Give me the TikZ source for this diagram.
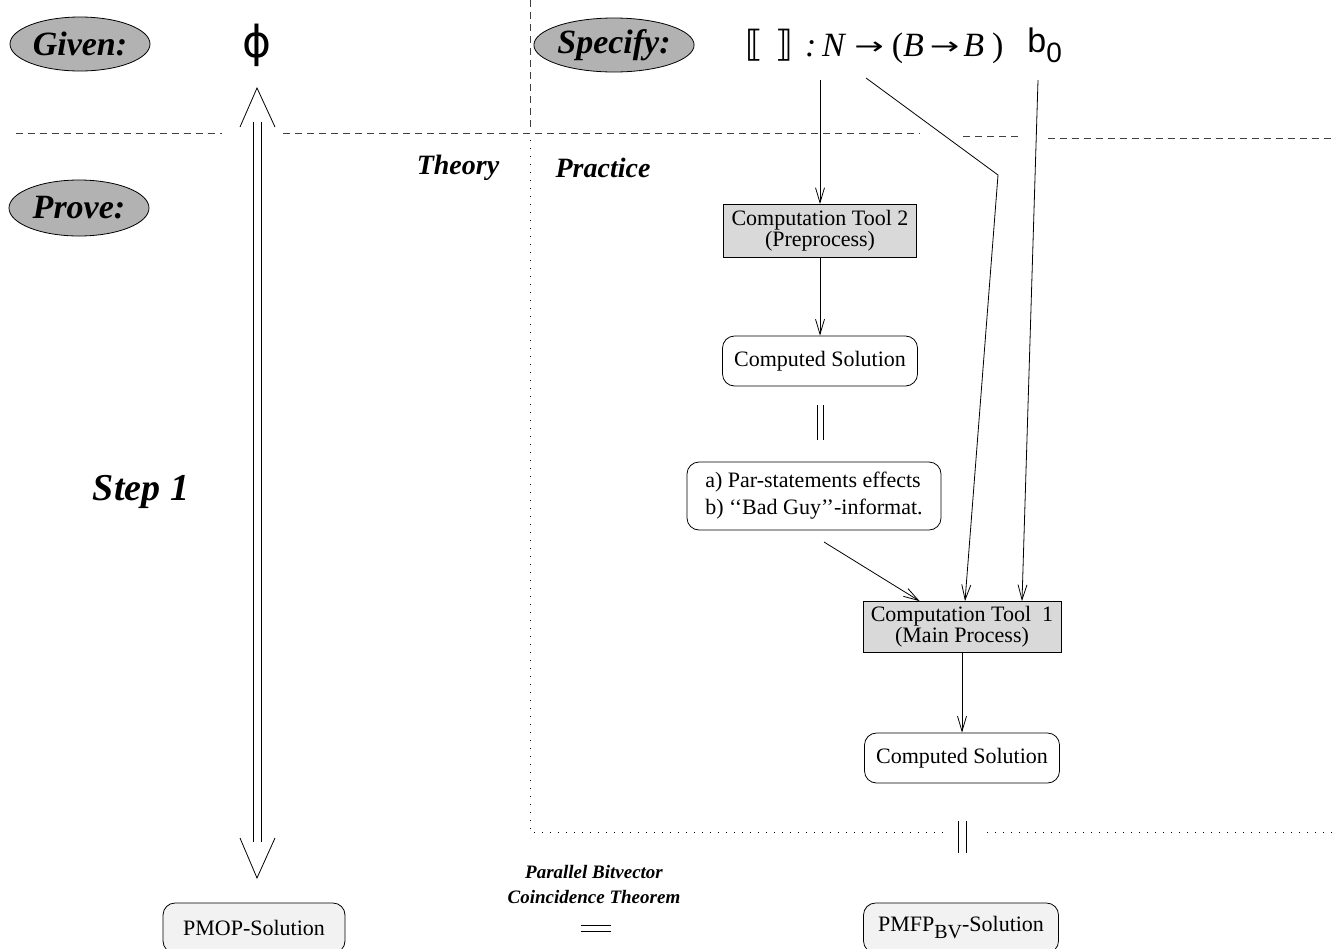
\documentclass[tikz,border=0pt]{standalone}
\usepackage{fontspec}
\setmainfont{Liberation Serif}
\newfontfamily\symfont{DejaVu Sans}
\newfontfamily\helv{Liberation Sans}
\usetikzlibrary{shapes.geometric,arrows.meta,calc}
\newcommand{\tyarrow}{\raisebox{1pt}{\scalebox{1.1}[0.75]{\symfont\fontsize{16}{16}\selectfont →}}}

\begin{document}
\begin{tikzpicture}[x=0.5pt,y=-0.5pt,
	>={Straight Barb[length=7.5pt,width=4.5pt]},
	tag/.style={ellipse,draw,fill=black!30,inner sep=0pt,minimum width=70pt,minimum height=27pt,font=\fontsize{17}{18}\selectfont\bfseries\itshape},
	tool/.style={draw,fill=black!15,align=center,inner sep=0pt,font=\fontsize{11}{10.5}\selectfont},
	result/.style={draw,rounded corners=6pt,inner sep=0pt,minimum width=97.5pt,minimum height=25pt,font=\fontsize{11}{13}\selectfont},
	final/.style={result,fill=black!5},
	rule/.style={dash pattern=on 3.5pt off 2.5pt,black!75},
	dots/.style={dash pattern=on 0.6pt off 3.4pt}]
	\useasboundingbox (0,0) rectangle (1332,948);

	\node[tag] (given) at (80,44) {Given:};
	\node[tag,minimum height=28pt] (prove) at (79,208) {Prove:};
	\node[tag] (specify) at (614,45) {Specify:};
	\node[font=\symfont\fontsize{22}{22}\selectfont] (phi) at (257,45) {ϕ};
	\node[anchor=west,inner sep=0pt,font=\fontsize{17}{17}\selectfont] (sem) at (745,46)
		{{\symfont\fontsize{18}{18}\selectfont ⟦\hspace{6pt}⟧}\hspace{6pt}\textit{:\,N}\hspace{4pt}\tyarrow\hspace{4pt}(\textit{B}\hspace{3pt}\tyarrow\hspace{2pt}\textit{B}\hspace{4pt})};
	\node[anchor=west,inner sep=0pt,font=\helv\fontsize{17}{17}\selectfont] (b0) at (1027,45) {b\raisebox{-5pt}{\fontsize{14}{14}\selectfont 0}};

	\node[font=\fontsize{14}{14}\selectfont\bfseries\itshape] (theory) at (458,168) {Theory};
	\node[font=\fontsize{14}{14}\selectfont\bfseries\itshape] (practice) at (603,168) {Practice};
	\node[font=\fontsize{19}{19}\selectfont\bfseries\itshape] (step) at (141,492) {Step 1};

	\node[tool,minimum width=96.5pt,minimum height=26.5pt] (tool2) at (820,231) {Computation Tool 2\\(Preprocess)};
	\node[result] (sol2) at (820,361) {Computed Solution};
	\node[result,minimum width=127pt,minimum height=34pt,align=left,font=\fontsize{11}{13.5}\selectfont] (par) at (814,496)
		{a) Par-statements effects\\b) ‘‘Bad Guy’’-informat.};
	\node[tool,minimum width=99pt,minimum height=25.5pt] (tool1) at (962,627) {Computation Tool\ \ 1\\(Main Process)};
	\node[result] (sol1) at (962,758) {Computed Solution};
	\node[final,minimum width=91pt] (pmop) at (254,928) {PMOP-Solution};
	\node[final] (pmfp) at (961,928) {PMFP\raisebox{-3.5pt}{\fontsize{10}{10}\selectfont BV}-Solution};
	\node[align=center,font=\fontsize{9.5}{12.5}\selectfont\bfseries\itshape] (pbc) at (594,884) {Parallel Bitvector\\Coincidence Theorem};

	\draw[rule] (16,133) -- (222,133) (283,133) -- (920,133);
	\draw[rule] (963,136) -- (1021,136) (1048,138) -- (1332,138);
	\draw[rule] (530,0) -- (530,130);
	\draw[dots] (530,140) -- (530,832) -- (943,832) (987,832) -- (1332,832);

	\coordinate (dtop) at (257,88);
	\coordinate (dbot) at (257,878);
	\draw ($(dtop)+(-4,34)$) -- ($(dbot)+(-4,-36)$) ($(dtop)+(4,34)$) -- ($(dbot)+(4,-36)$);
	\draw ($(dtop)+(-17,39)$) -- (dtop) -- ($(dtop)+(18,39)$);
	\draw ($(dbot)+(-17,-40)$) -- (dbot) -- ($(dbot)+(18,-40)$);

	\coordinate (nfoot) at (820,80);
	\coordinate (ffoot) at (866,78);
	\coordinate (bend) at (998,175);
	\coordinate (bfoot) at (1038,80);
	\coordinate (parfoot) at (824,542);
	\draw[->] (nfoot) -- (tool2);
	\draw[->] (tool2) -- (sol2);
	\draw[->] (ffoot) -- (bend) -- ($(tool1.north)+(3,0)$);
	\draw[->] (bfoot) -- ($(tool1.north)+(60,0)$);
	\draw[->] (parfoot) -- ($(tool1.north west)+(57,0)$);
	\draw[->] (tool1) -- (sol1);

	\draw ($(sol2.south)+(-3,19)$) -- +(0,35) ($(sol2.south)+(3,19)$) -- +(0,35);
	\draw ($(sol1.south)+(-4,38)$) -- +(0,32) ($(sol1.south)+(4,38)$) -- +(0,32);
	\draw ($(pbc.south)+(-13,15)$) -- +(30,0) ($(pbc.south)+(-13,21)$) -- +(30,0);
\end{tikzpicture}
\end{document}
